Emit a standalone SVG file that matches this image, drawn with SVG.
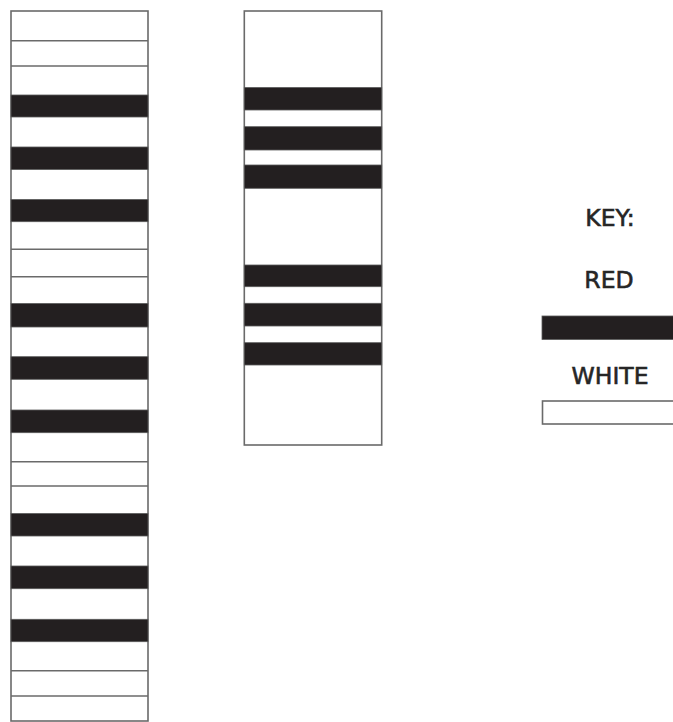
<svg xmlns="http://www.w3.org/2000/svg" width="673" height="722" viewBox="0 0 673 722">
<style>
.col{fill:#ffffff;stroke:#6a6a6a;stroke-width:1.6}
.red{fill:#231f20;stroke:#5a5a5a;stroke-width:0.8}
.div{stroke:#6a6a6a;stroke-width:1.6}
.lbl{font-family:"DejaVu Sans",Verdana,sans-serif;font-size:23.5px;fill:#262626;stroke:#262626;stroke-width:0.6;text-anchor:middle}
</style>
<rect width="673" height="722" fill="#ffffff"/>
<g id="column-left">
<rect class="col" x="11" y="11" width="137" height="710"/>
<line class="div" x1="11" y1="40.7" x2="148" y2="40.7"/>
<line class="div" x1="11" y1="66" x2="148" y2="66"/>
<line class="div" x1="11" y1="249.3" x2="148" y2="249.3"/>
<line class="div" x1="11" y1="276.7" x2="148" y2="276.7"/>
<line class="div" x1="11" y1="461.7" x2="148" y2="461.7"/>
<line class="div" x1="11" y1="486" x2="148" y2="486"/>
<line class="div" x1="11" y1="670.7" x2="148" y2="670.7"/>
<line class="div" x1="11" y1="696" x2="148" y2="696"/>
<rect class="red" x="11" y="95" width="137" height="22"/>
<rect class="red" x="11" y="147" width="137" height="22.5"/>
<rect class="red" x="11" y="199.5" width="137" height="22.2"/>
<rect class="red" x="11" y="303.5" width="137" height="23.5"/>
<rect class="red" x="11" y="356.7" width="137" height="22.6"/>
<rect class="red" x="11" y="410" width="137" height="22.7"/>
<rect class="red" x="11" y="513.5" width="137" height="22.5"/>
<rect class="red" x="11" y="566" width="137" height="22.7"/>
<rect class="red" x="11" y="619.3" width="137" height="22.4"/>
</g>
<g id="column-middle">
<rect class="col" x="244.3" y="11" width="137.4" height="434"/>
<rect class="red" x="244.3" y="87.5" width="137.4" height="22.5"/>
<rect class="red" x="244.3" y="126.7" width="137.4" height="23.3"/>
<rect class="red" x="244.3" y="165" width="137.4" height="23.3"/>
<rect class="red" x="244.3" y="265" width="137.4" height="21.7"/>
<rect class="red" x="244.3" y="303.3" width="137.4" height="22.7"/>
<rect class="red" x="244.3" y="342.7" width="137.4" height="22.3"/>
</g>
<g id="key">
<text class="lbl" x="610" y="226">KEY:</text>
<text class="lbl" x="609" y="288">RED</text>
<rect class="red" x="542" y="316" width="140" height="23.5"/>
<text class="lbl" x="610" y="384">WHITE</text>
<rect class="col" x="542.5" y="401" width="140" height="23"/>
</g>
<g id="connectors"></g>
</svg>
